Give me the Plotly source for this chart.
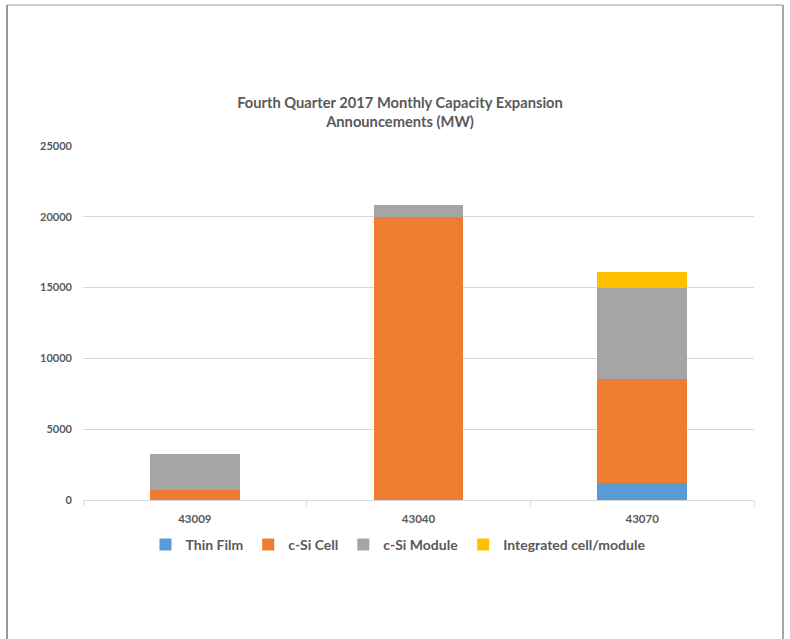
import plotly.graph_objects as go

categories = ["43009", "43040", "43070"]
thin_film = [0, 0, 1200]
csi_cell = [730, 20000, 7350]
csi_module = [2520, 800, 6450]
integrated = [0, 0, 1100]

series = [
    ("Thin Film", thin_film, "#5B9BD5"),
    ("c-Si Cell", csi_cell, "#ED7D31"),
    ("c-Si Module", csi_module, "#A5A5A5"),
    ("Integrated cell/module", integrated, "#FFC000"),
]

FONT = "Lato"
GRAY = "#595959"

# plot area in pixels: x 83..754, y 146..500
PW, PH = 671.0, 354.0


def px_x(p):
    return (p - 83) / PW


def px_y(p):
    return (500 - p) / PH


fig = go.Figure()
for name, vals, color in series:
    fig.add_trace(go.Bar(
        x=categories, y=vals, name=name,
        marker=dict(color=color, line=dict(width=0)),
    ))

fig.update_layout(
    width=790, height=639,
    barmode="stack",
    bargap=0.598,
    paper_bgcolor="white",
    plot_bgcolor="white",
    margin=dict(l=83, r=36, t=146, b=139, autoexpand=False),
    font=dict(family=FONT, color=GRAY),
    title=dict(
        text="<b>Fourth Quarter 2017 Monthly Capacity Expansion<br>Announcements (MW)</b>",
        x=400 / 790, xanchor="center",
        y=(639 - 108) / 639, yanchor="top", yref="container",
        font=dict(family=FONT, size=14.7, color=GRAY),
    ),
    legend=dict(
        orientation="h",
        x=px_x(398), xanchor="center",
        y=px_y(545), yanchor="middle",
        font=dict(family=FONT, size=14, color=GRAY, weight="bold"),
        traceorder="normal",
    ),
    xaxis=dict(
        type="category",
        showgrid=False,
        showline=True, linecolor="#D9D9D9", linewidth=1,
        ticks="outside", tickson="boundaries", ticklen=5, tickcolor="#D9D9D9",
        ticklabelstandoff=8,
        tickfont=dict(family=FONT, size=11.5, color=GRAY, weight="bold"),
    ),
    yaxis=dict(
        range=[0, 25000], dtick=5000, tickformat="d",
        showgrid=True, gridcolor="#D9D9D9", gridwidth=1,
        zeroline=False, showline=False,
        ticks="", ticklabelstandoff=10,
        tickfont=dict(family=FONT, size=11, color=GRAY, weight="bold"),
    ),
    shapes=[
        dict(type="line", xref="paper", yref="paper",
             x0=px_x(7), x1=px_x(7), y0=-1, y1=px_y(5),
             line=dict(color="#333333", width=1)),
        dict(type="line", xref="paper", yref="paper",
             x0=px_x(7), x1=px_x(783), y0=px_y(5), y1=px_y(5),
             line=dict(color="#999999", width=1)),
        dict(type="line", xref="paper", yref="paper",
             x0=px_x(783), x1=px_x(783), y0=-1, y1=px_y(5),
             line=dict(color="#888888", width=1.5)),
    ],
)

fig.write_html("out.html")
